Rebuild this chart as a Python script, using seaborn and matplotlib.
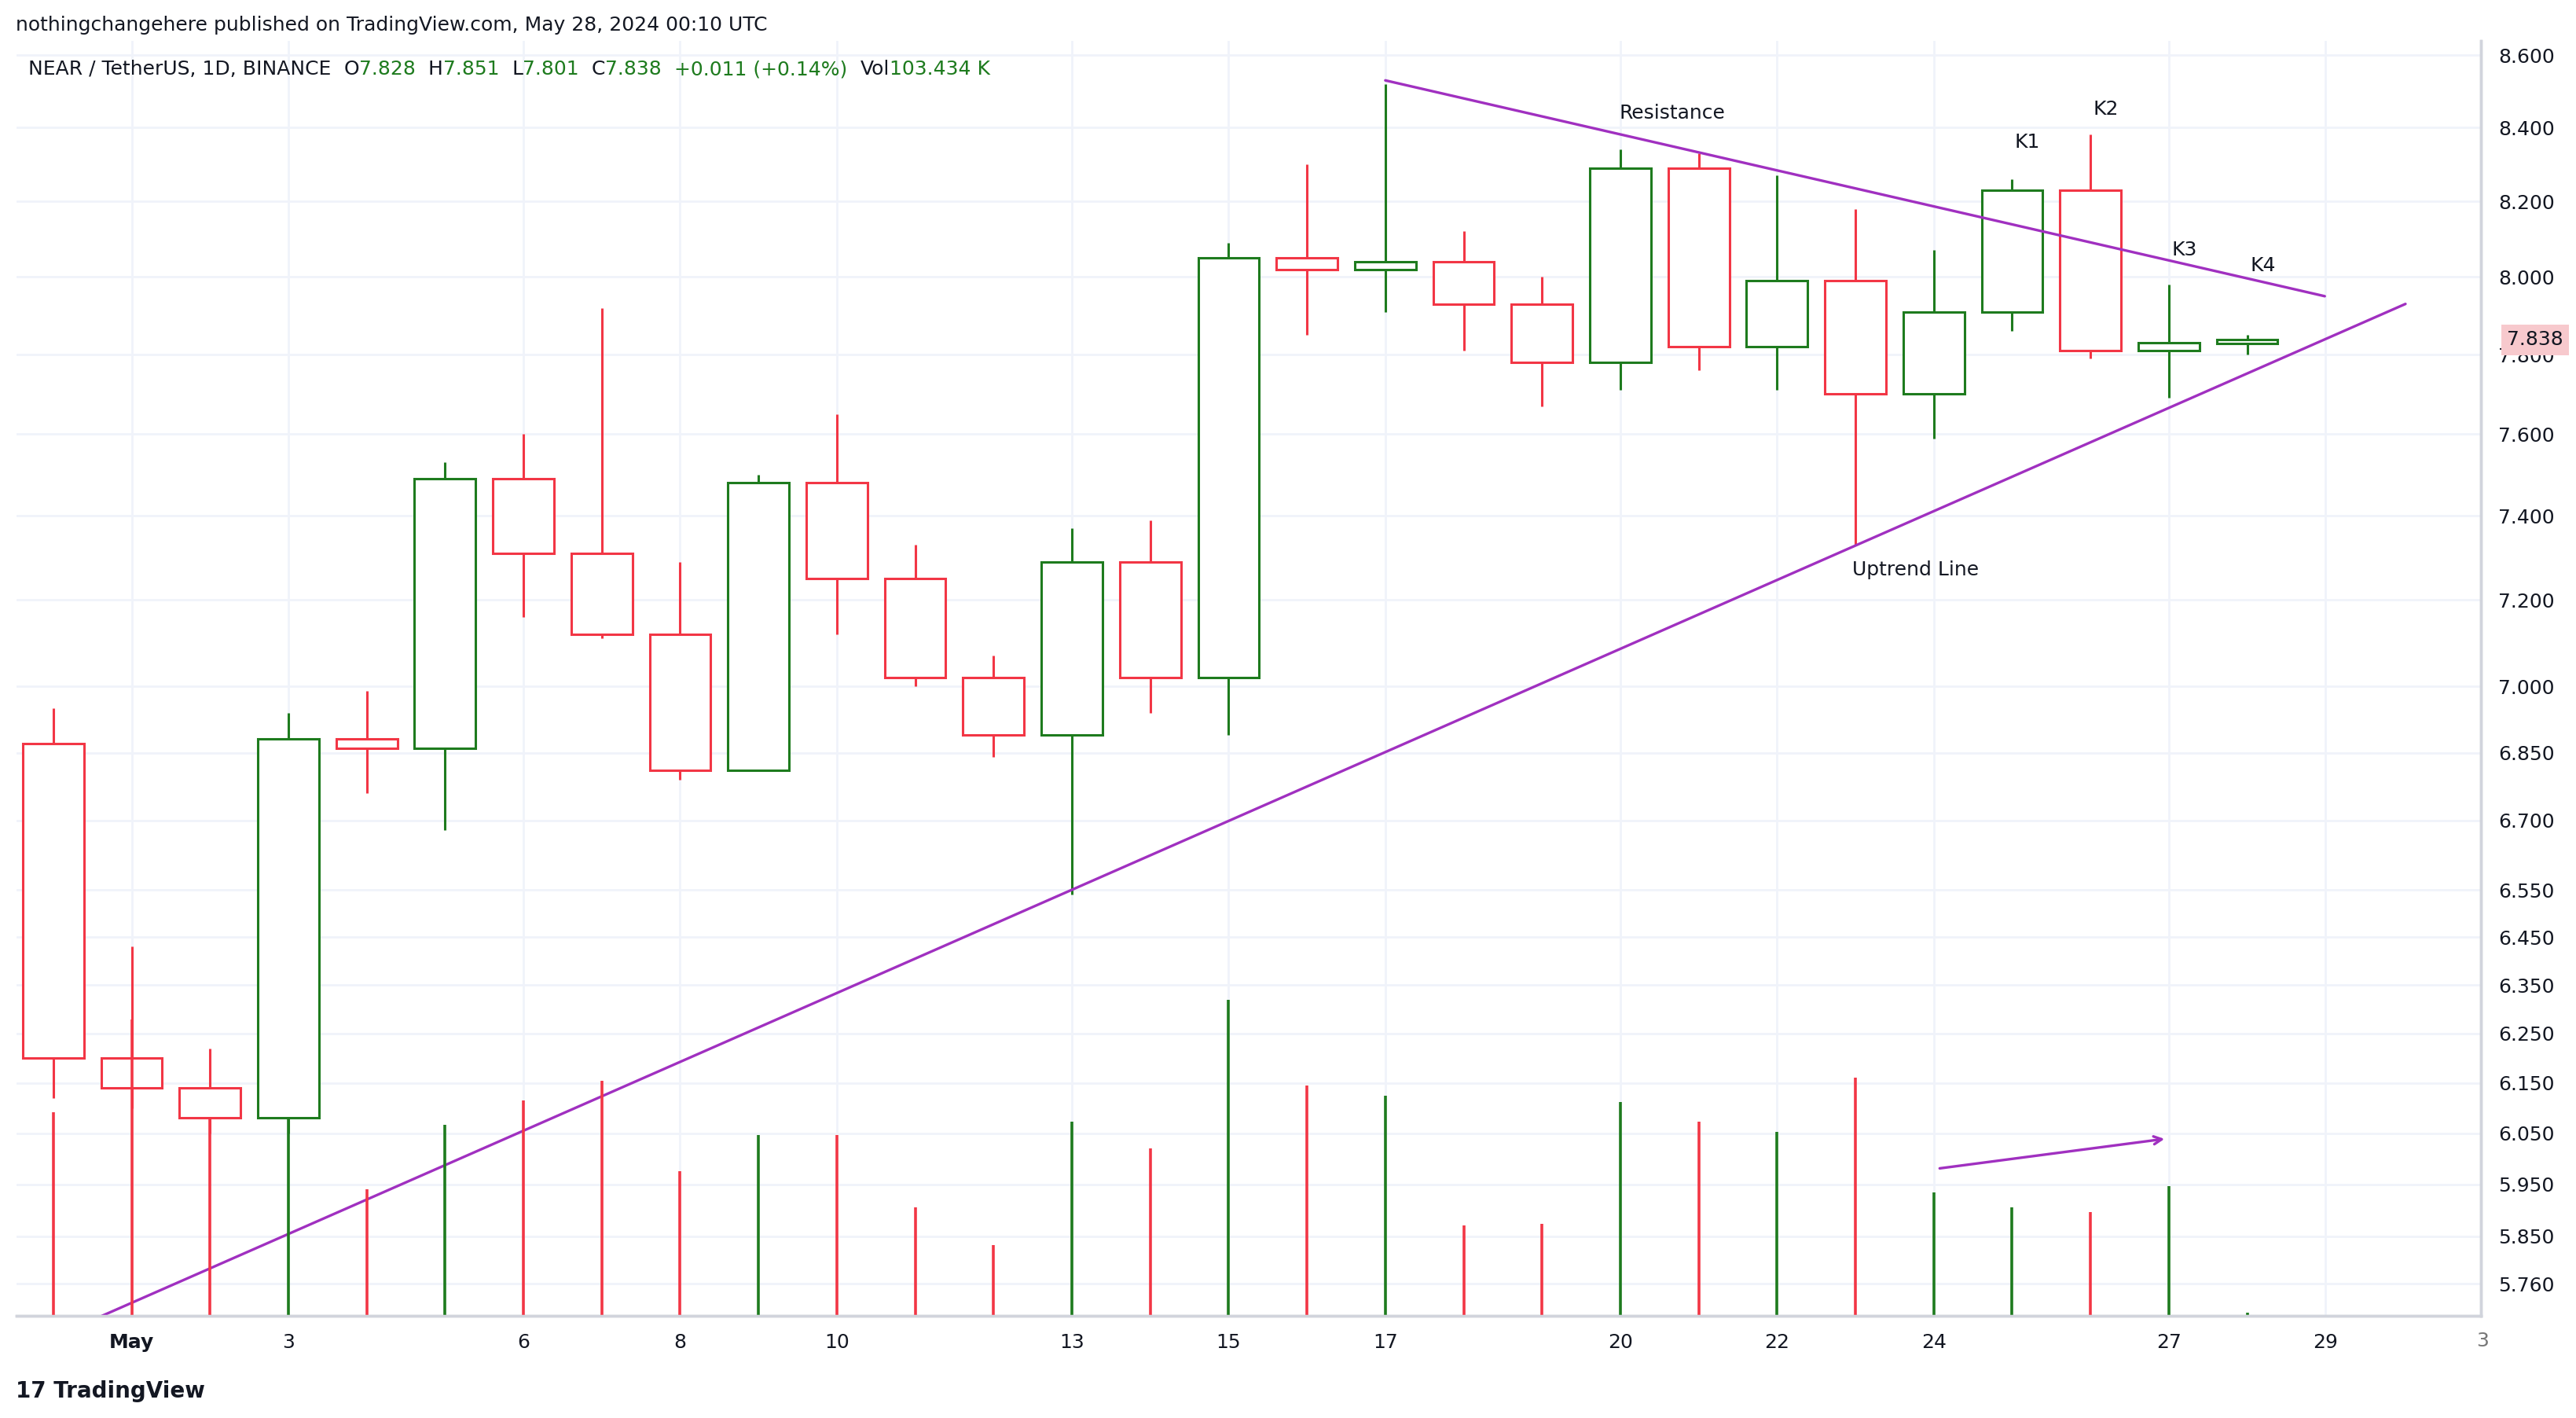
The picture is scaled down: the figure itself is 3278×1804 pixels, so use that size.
import matplotlib.pyplot as plt
import matplotlib.ticker as mticker
import numpy as np
import seaborn as sns

sns.set_theme(style="white")
plt.rcParams.update({"font.family": "DejaVu Sans", "font.size": 9})

UP = "#1e7b1e"
DOWN = "#f23645"

# day index: 0 = Apr 30, 1 = May 1, ...
days = list(range(29))
opens = [6.87, 6.20, 6.14, 6.08, 6.88, 6.86, 7.49, 7.31, 7.12, 6.81, 7.48, 7.25, 7.02, 6.89, 7.29,
         7.02, 8.05, 8.02, 8.04, 7.93, 7.78, 8.29, 7.82, 7.99, 7.70, 7.91, 8.23, 7.81, 7.828]
highs = [6.95, 6.43, 6.22, 6.94, 6.99, 7.53, 7.60, 7.92, 7.29, 7.50, 7.65, 7.33, 7.07, 7.37, 7.39,
         8.09, 8.30, 8.52, 8.12, 8.00, 8.34, 8.33, 8.27, 8.18, 8.07, 8.26, 8.38, 7.98, 7.851]
lows = [6.12, 6.10, 6.05, 6.05, 6.76, 6.68, 7.16, 7.11, 6.79, 6.81, 7.12, 7.00, 6.84, 6.54, 6.94,
        6.89, 7.85, 7.91, 7.81, 7.67, 7.71, 7.76, 7.71, 7.33, 7.59, 7.86, 7.79, 7.69, 7.801]
closes = [6.20, 6.14, 6.08, 6.88, 6.86, 7.49, 7.31, 7.12, 6.81, 7.48, 7.25, 7.02, 6.89, 7.29, 7.02,
          8.05, 8.02, 8.04, 7.93, 7.78, 8.29, 7.82, 7.99, 7.70, 7.91, 8.23, 7.81, 7.83, 7.838]
volumes = [124, 180, 120, 120, 77, 116, 131, 143, 88, 110, 110, 66, 43, 118, 102,
           192, 140, 134, 55, 56, 130, 118, 112, 145, 75, 66, 63, 79, 2]

price_ticks = [5.76, 5.85, 5.95, 6.05, 6.15, 6.25, 6.35, 6.45, 6.55, 6.70, 6.85, 7.00,
               7.20, 7.40, 7.60, 7.80, 8.00, 8.20, 8.40, 8.60]
date_ticks = [1, 3, 6, 8, 10, 13, 15, 17, 20, 22, 24, 27, 29]
date_labels = ["May", "3", "6", "8", "10", "13", "15", "17", "20", "22", "24", "27", "29"]

uptrend_x = [0.62, 30.02]
uptrend_y = [5.70, 7.93]
resist_x = [17.0, 28.99]
resist_y = [8.53, 7.95]
arrow_x = [24.02, 27.0]
arrow_y = [5.98, 6.04]

fig = plt.figure(figsize=(16.39, 9.02), dpi=200)
ax = fig.add_axes([0.0064, 0.072, 0.9566, 0.899])
ax2 = ax.twinx()

o = np.array(opens); c = np.array(closes)
cols = [UP if cc >= oo else DOWN for oo, cc in zip(opens, closes)]

# volume on top layer (transparent background) so the grid does not cover it
ax2.vlines(days, 0, volumes, colors=cols, linewidth=1.3)
ax2.set_ylim(0, 775)
ax2.set_yticks([])
ax2.set_zorder(2)
ax2.patch.set_visible(False)
ax.set_zorder(1)

ax.vlines(days, lows, highs, colors=cols, linewidth=1.1, zorder=2)
ax.bar(days, np.maximum(np.abs(c - o), 0.004), bottom=np.minimum(o, c), width=0.78,
       color="white", edgecolor=cols, linewidth=1.1, zorder=3)

ax.set_yscale("log")
ax.set_ylim(5.70, 8.64)
ax.set_xlim(-0.47, 30.98)
ax.yaxis.tick_right()
ax.yaxis.set_major_locator(mticker.FixedLocator(price_ticks))
ax.yaxis.set_minor_locator(mticker.NullLocator())
ax.yaxis.set_major_formatter(mticker.FuncFormatter(lambda v, p: f"{v:.3f}"))
ax.set_xticks(date_ticks)
ax.set_xticklabels(date_labels)
ax.get_xticklabels()[0].set_fontweight("bold")
ax.tick_params(axis="both", labelsize=9, colors="#131722", length=0, pad=8)
ax.grid(True, color="#f0f3fa", linewidth=1)
ax.set_axisbelow(True)
for s in ["top", "left"]:
    ax.spines[s].set_visible(False)
    ax2.spines[s].set_visible(False)
for s in ["right", "bottom"]:
    ax.spines[s].set_color("#d1d4dc")
    ax2.spines[s].set_color("#d1d4dc")
ax.text(30.92, -0.012, "3", transform=ax.get_xaxis_transform(), fontsize=9, color="#777",
        ha="left", va="top")

purple = "#a030c0"
ax.plot(uptrend_x, uptrend_y, color=purple, linewidth=1.2, zorder=4)
ax.plot(resist_x, resist_y, color=purple, linewidth=1.2, zorder=4)
ax.annotate("", xy=(arrow_x[1], arrow_y[1]), xytext=(arrow_x[0], arrow_y[0]),
            arrowprops=dict(arrowstyle="->", color=purple, lw=1.2))

for txt, x, y in [("Resistance", 20.66, 8.44), ("Uptrend Line", 23.77, 7.27), ("K1", 25.19, 8.36),
                  ("K2", 26.2, 8.45), ("K3", 27.2, 8.07), ("K4", 28.2, 8.03)]:
    ax.text(x, y, txt, ha="center", va="center", fontsize=9, color="#131722", zorder=5)

ax.annotate("7.838", xy=(1.0, 7.838), xycoords=("axes fraction", "data"), xytext=(12, 0),
            textcoords="offset points", va="center", ha="left", fontsize=9, color="#131722",
            bbox=dict(boxstyle="square,pad=0.3", fc="#f7c9cd", ec="none"), zorder=6)

fig.text(0.006, 0.982, "nothingchangehere published on TradingView.com, May 28, 2024 00:10 UTC",
         fontsize=9, color="#131722", va="center")
hdr = [("NEAR / TetherUS, 1D, BINANCE  ", "#131722"), ("O", "#131722"), ("7.828  ", UP),
       ("H", "#131722"), ("7.851  ", UP), ("L", "#131722"), ("7.801  ", UP),
       ("C", "#131722"), ("7.838  ", UP), ("+0.011 (+0.14%)  ", UP), ("Vol", "#131722"),
       ("103.434 K", UP)]
x0 = 0.011
r = fig.canvas.get_renderer()
for t, col in hdr:
    tt = fig.text(x0, 0.951, t, fontsize=9, color=col, va="center")
    x0 += tt.get_window_extent(renderer=r).width / fig.bbox.width
fig.text(0.006, 0.019, "17 TradingView", fontsize=10, color="#131722", va="center",
         fontweight="bold")

plt.savefig("out.png", dpi=200)
